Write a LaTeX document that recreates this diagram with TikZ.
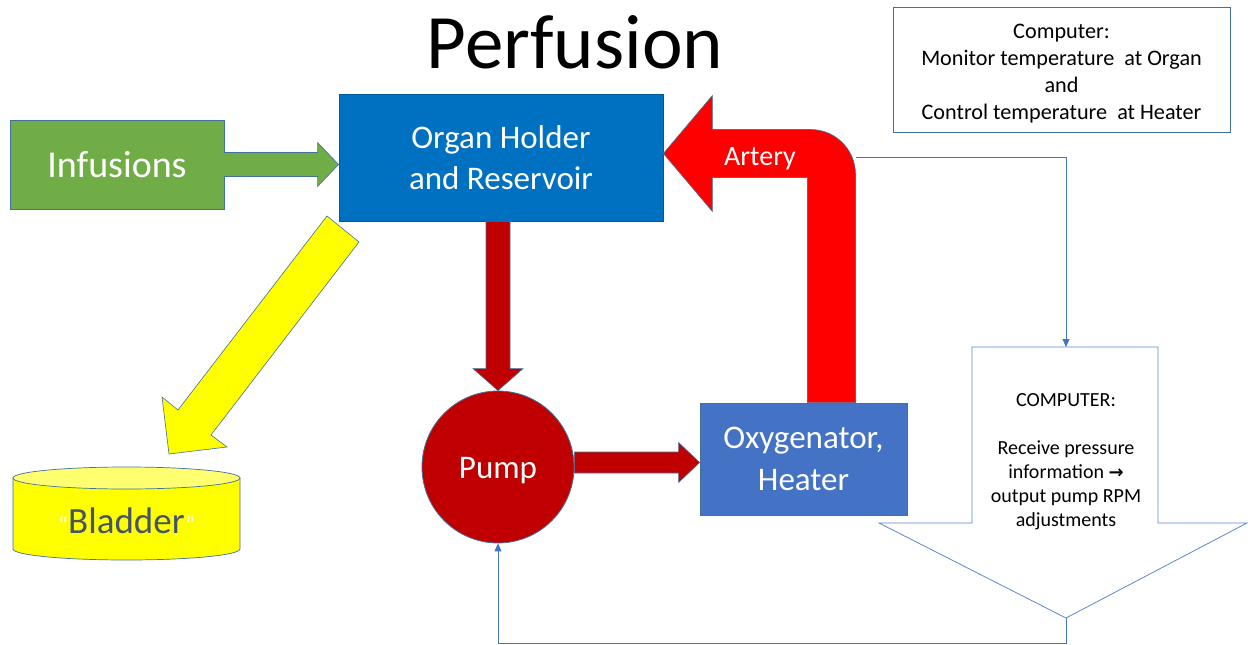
\documentclass[tikz,border=0pt]{standalone}
\usepackage{fontspec}
\setmainfont{Carlito}
\newfontfamily\djv{DejaVu Sans}
\usetikzlibrary{arrows.meta,calc}
\definecolor{infgreen}{HTML}{70AD47}
\definecolor{orgblue}{HTML}{0070C0}
\definecolor{darkred}{HTML}{C00000}
\definecolor{oxyblue}{HTML}{4472C4}
\definecolor{brightred}{HTML}{FF0000}
\definecolor{outl}{HTML}{41719C}
\definecolor{yel}{HTML}{FFFF00}
\definecolor{lightyel}{HTML}{FFFF70}
\definecolor{bladtxt}{HTML}{44546A}
\definecolor{linkblue}{HTML}{4472C4}
\begin{document}
\begin{tikzpicture}[x=1pt,y=-1pt,
  box/.style={draw=outl, line width=0.8pt, inner sep=0pt, align=center, text=white},
  fatarrow/.style={draw=outl, line width=0.6pt, line join=miter},
  thinlink/.style={draw=linkblue, line width=0.9pt, -{Triangle[length=8,width=7]}},
  txtc/.style={inner sep=0pt, align=center}]
\useasboundingbox (0,0) rectangle (1248,645);
\fill[white] (0,0) rectangle (1248,645);

% title
\node[txtc, anchor=base, font=\fontsize{77}{80}\selectfont] (title) at (575,68) {Perfusion};

% main nodes
\node[box, fill=infgreen, minimum width=214, minimum height=89,
      font=\fontsize{38}{40}\selectfont] (inf) at (117,164.5) {Infusions};
\node[box, fill=orgblue, draw=orgblue!80!black, minimum width=324, minimum height=127,
      font=\fontsize{33}{42}\selectfont] (organ) at (501,157.5) {\raisebox{-1pt}[\height][\depth]{Organ Holder}\\and Reservoir};
\node[box, circle, fill=darkred, draw=outl, minimum size=152,
      font=\fontsize{33}{36}\selectfont] (pump) at (498,467) {\raisebox{-4pt}[\height][\depth]{Pump}};
\node[box, fill=oxyblue, draw=outl, minimum width=207, minimum height=112,
      font=\fontsize{33}{42}\selectfont] (oxy) at (803.5,459) {Oxygenator,\\Heater};
\node[draw=outl, line width=0.8pt, fill=white, txtc, minimum width=337, minimum height=125,
      font=\fontsize{22.2}{27}\selectfont] (comp1) at (1061.5,69.5)
      {\rule{0pt}{23pt}Computer:\\Monitor temperature\ \ at Organ\\and\\Control temperature\ \ at Heater};

% infusion arrow
\coordinate (itip) at (organ.west |- inf.east);
\fill[infgreen] ($(inf.east)+(-1,-12)$) -- ($(itip)+(-21,-12)$) -- ($(itip)+(-21,-22)$) -- (itip)
  -- ($(itip)+(-21,22)$) -- ($(itip)+(-21,12)$) -- ($(inf.east)+(-1,12)$) -- cycle;
\draw[fatarrow] ($(inf.east)+(0,-12)$) -- ($(itip)+(-21,-12)$) -- ($(itip)+(-21,-22)$) -- (itip)
  -- ($(itip)+(-21,22)$) -- ($(itip)+(-21,12)$) -- ($(inf.east)+(0,12)$);

% organ -> pump arrow
\coordinate (ps) at (pump.north |- organ.south);
\filldraw[fatarrow, fill=darkred] ($(ps)+(-12,0)$) -- ($(pump.north)+(-12,-22)$) -- ($(pump.north)+(-25,-22)$)
  -- (pump.north) -- ($(pump.north)+(25,-22)$) -- ($(pump.north)+(12,-22)$) -- ($(ps)+(12,0)$) -- cycle;

% pump -> oxygenator arrow
\coordinate (pe) at ($(pump.east)+(0,-4.5)$);
\coordinate (ot) at (oxy.west |- pe);
\filldraw[fatarrow, fill=darkred] ($(pe)+(0,-10.5)$) -- ($(ot)+(-21,-10.5)$) -- ($(ot)+(-21,-20)$)
  -- (ot) -- ($(ot)+(-21,20)$) -- ($(ot)+(-21,10.5)$) -- ($(pe)+(0,10.5)$) -- cycle;

% artery bent arrow
\coordinate (a0) at ($(oxy.north)+(28,0)$);
\coordinate (atip) at ($(organ.east)+(0,-4)$);
\coordinate (acor) at (a0 |- atip);
\filldraw[fatarrow, fill=brightred] ($(a0)+(-24,0)$) -- ($(acor)+(-24,24)$) -- ($(atip)+(49,24)$)
  -- ($(atip)+(49,58)$) -- (atip) -- ($(atip)+(49,-58)$) -- ($(atip)+(49,-24)$)
  -- ($(acor)+(-21,-24)$) .. controls ($(acor)+(4,-24)$) and ($(acor)+(24,-4)$) .. ($(acor)+(24,21)$)
  -- ($(a0)+(24,0)$) -- cycle;
\node[txtc, text=white, font=\fontsize{28}{30}\selectfont] (artlbl) at (760,159) {Artery};

% yellow arrow to bladder
\filldraw[fatarrow, fill=yel] (327,216) -- (359,242) -- (211,435) -- (227,447) -- (169,454)
  -- (162,397) -- (178,410) -- cycle;

% bladder cylinder
\filldraw[draw=outl, line width=0.7pt, fill=yel] (13,478) -- (13,549)
  arc[start angle=180, end angle=0, x radius=113.5, y radius=11] -- (240,478) -- cycle;
\filldraw[draw=outl, line width=0.7pt, fill=lightyel] (126.5,478) ellipse[x radius=113.5, y radius=11];
\node[txtc, text=bladtxt, font=\fontsize{37}{40}\selectfont] (bladder) at (126.5,521)
  {{\color{white}\fontsize{24}{24}\selectfont“}Bladder{\color{white}\fontsize{24}{24}\selectfont”}};

% big computer down arrow
\coordinate (c2top) at (1066,347);
\coordinate (c2tip) at (1066,618);
\filldraw[draw=linkblue!85!white, line width=0.8pt, fill=white] ($(c2top)+(-94,0)$) -- ($(c2top)+(92,0)$)
  -- ($(c2top)+(92,176)$) -- ($(c2top)+(181,176)$) -- (c2tip) -- ($(c2top)+(-187,176)$)
  -- ($(c2top)+(-94,176)$) -- cycle;
\node[txtc, font=\fontsize{20}{24}\selectfont] (comp2) at (1066,462)
  {COMPUTER:\\[24pt]Receive pressure\\information {\djv\bfseries\fontsize{18}{24}\selectfont →}\\output pump RPM\\adjustments};

% thin links
\coordinate (aout) at ($(acor)+(24,4)$);
\draw[thinlink] (aout) -| (c2top);
\draw[thinlink] (c2tip) -- ++(0,25) -| (pump.south);
\end{tikzpicture}
\end{document}
